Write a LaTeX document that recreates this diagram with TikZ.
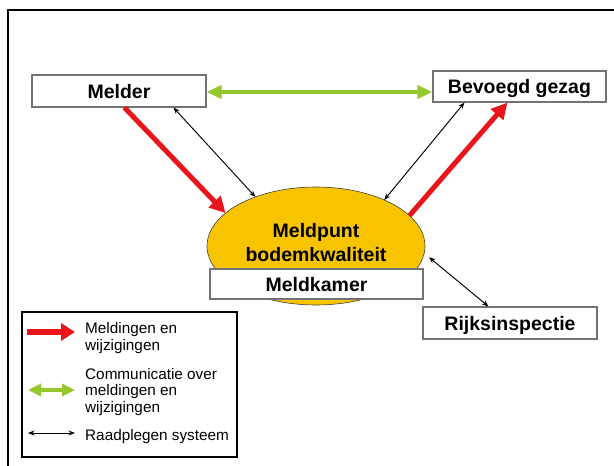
\documentclass[tikz,border=0pt]{standalone}
\usepackage{fontspec}
\setmainfont{Liberation Sans}
\usetikzlibrary{arrows.meta,shapes.geometric}
\definecolor{redarr}{RGB}{232,22,26}
\definecolor{greenarr}{RGB}{150,200,45}
\definecolor{gold}{RGB}{248,196,0}
\definecolor{boxgray}{RGB}{115,115,115}
\tikzset{
  whitebox/.style={draw=boxgray,line width=1.1pt,fill=white,rectangle,inner sep=0pt,
    text height=14pt,text depth=0pt,font=\fontsize{19.5}{22}\selectfont\bfseries},
  redarrow/.style={draw=redarr,line width=5pt,-{Triangle[length=16pt,width=16pt]}},
  greenarrow/.style={draw=greenarr,line width=4pt,{Triangle[length=15pt,width=13pt]}-{Triangle[length=15pt,width=13pt]}},
  thinarrow/.style={draw=black,line width=0.95pt,{Stealth[length=6.5pt,width=5pt]}-{Stealth[length=6.5pt,width=5pt]}},
  legtext/.style={anchor=base west,inner sep=0pt,font=\fontsize{15.3}{17}\selectfont},
  ovaltext/.style={anchor=base,inner sep=0pt,font=\fontsize{19.5}{22}\selectfont\bfseries}
}
\begin{document}
\begin{tikzpicture}[x=1pt,y=-1pt]
\useasboundingbox (0,0) rectangle (614,466);
% frame (only top and left visible)
\draw[line width=2pt] (614,9.5) -- (8,9.5) -- (8,466);

% central ellipse
\node[ellipse,draw=black!75,line width=0.6pt,fill=gold,minimum width=218pt,minimum height=118pt,inner sep=0pt,outer sep=0pt] (ell) at (316,246) {};
\node[ovaltext] (mp) at (316,237.5) {Meldpunt};
\node[ovaltext] (bk) at (316,261.5) {bodemkwaliteit};
\node[whitebox,minimum width=213pt,minimum height=30pt] (mk) at (316.5,284) {Meldkamer};

% boxes
\node[whitebox,minimum width=174pt,minimum height=32pt] (melder) at (119,91) {Melder};
\node[whitebox,minimum width=173pt,minimum height=31pt] (bg) at (519.5,86.5) {Bevoegd gezag};
\node[whitebox,minimum width=174pt,minimum height=32pt] (rijk) at (510,323) {Rijksinspectie};

% connectors
\draw[greenarrow] ([yshift=-1pt]melder.east) -- ([yshift=-1pt]bg.west |- melder.east);
\draw[redarrow] ([xshift=93pt]melder.south west) -- (ell.160.8);
\draw[thinarrow] ([xshift=142pt]melder.south west) -- (ell.141);
\draw[thinarrow] ([xshift=32pt]bg.south west) -- (ell.34);
\draw[redarrow] (ell.18.3) -- ([xshift=75pt]bg.south west);
\draw[thinarrow] ([xshift=6pt]ell.-6) -- ([xshift=66pt]rijk.north west);

% legend
\node[draw=black,line width=1.3pt,fill=white,rectangle,minimum width=215pt,minimum height=145pt,inner sep=0pt] (leg) at (129.5,384.5) {};
\coordinate (ra) at (27,332);
\coordinate (rb) at (75,332);
\draw[draw=redarr,line width=6pt,-{Triangle[length=14pt,width=17pt]}] (ra) -- (rb);
\coordinate (ga) at (28,390);
\coordinate (gb) at (75,390);
\draw[draw=greenarr,line width=4pt,{Triangle[length=13pt,width=12pt]}-{Triangle[length=13pt,width=12pt]}] (ga) -- (gb);
\coordinate (ka) at (28,433);
\coordinate (kb) at (75,433);
\draw[thinarrow] (ka) -- (kb);
\node[legtext] (l1) at (85,333) {Meldingen en};
\node[legtext] (l2) at (85,350) {wijzigingen};
\node[legtext] (l3) at (85,379) {Communicatie over};
\node[legtext] (l4) at (85,395.5) {meldingen en};
\node[legtext] (l5) at (85,412) {wijzigingen};
\node[legtext] (l6) at (85,440) {Raadplegen systeem};
\end{tikzpicture}
\end{document}
